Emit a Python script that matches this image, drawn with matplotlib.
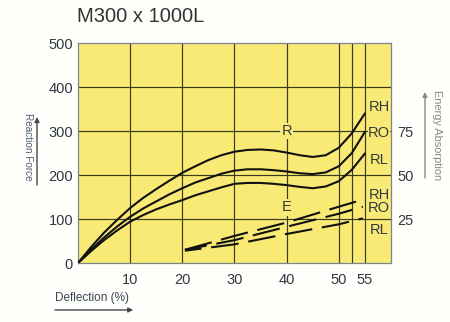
import matplotlib
matplotlib.use("Agg")
import matplotlib.pyplot as plt

plt.rcParams['font.family'] = ['Liberation Sans', 'DejaVu Sans']
plt.rcParams['lines.scale_dashes'] = False

# Reaction force curves (kN) vs deflection (%)
deflection = [0, 2.5, 5, 7.5, 10, 12.5, 15, 17.5, 20, 22.5, 25, 27.5, 30,
              32.5, 35, 37.5, 40, 42.5, 45, 47.5, 50, 52.5, 55]
reaction_rh = [0, 36, 69, 98, 125, 148, 168, 187, 205, 220, 234, 245, 253,
               257, 258, 256, 251, 245, 241, 245, 262, 295, 340]
reaction_ro = [0, 30, 58, 83, 105, 124, 140, 156, 170, 183, 193, 203, 210,
               213, 213, 211, 208, 204, 202, 206, 220, 250, 298]
reaction_rl = [0, 27, 52, 74, 94, 109, 122, 133, 143, 154, 163, 172, 180,
               182, 182, 180, 177, 173, 170, 174, 186, 212, 249]

# Energy absorption curves (kN·m) vs deflection (%)
energy_defl = [20.5, 30, 40, 50, 54.6]
energy_rh = [7.5, 15.4, 23.0, 32.0, 36.0]
energy_ro = [7.5, 13.0, 20.6, 28.0, 32.0]
energy_rl = [7.0, 10.6, 16.5, 22.0, 25.4]

x_ticks = [10, 20, 30, 40, 50, 55]
x_grid = [10, 20, 30, 40, 50, 52.5, 55]
y_ticks = [0, 100, 200, 300, 400, 500]
e_ticks = [25, 50, 75]

yellow = '#F8EA74'
grid_c = '#3a3a1c'
text_c = '#303842'

fig = plt.figure(figsize=(4.5, 3.22), dpi=100, facecolor='#FEFEFB')
ax = fig.add_axes([0.1733, 0.1832, 0.6956, 0.6832])
ax.set_facecolor(yellow)
ax.set_xlim(0, 60)
ax.set_ylim(0, 500)

for gx in x_grid:
    ax.axvline(gx, color=grid_c, lw=0.85, zorder=1)
for gy in y_ticks[1:-1]:
    ax.axhline(gy, color=grid_c, lw=0.85, zorder=1)

for s in ax.spines.values():
    s.set_color('#7a8590')
    s.set_linewidth(0.9)

ax.set_xticks(x_ticks)
ax.set_yticks(y_ticks)
ax.tick_params(axis='x', length=0, pad=7, labelsize=10.5, labelcolor=text_c)
ax.tick_params(axis='y', length=0, pad=3.5, labelsize=10.5, labelcolor=text_c)

for ys in (reaction_rh, reaction_ro, reaction_rl):
    ax.plot(deflection, ys, color='#111111', lw=1.5, zorder=3,
            solid_capstyle='round', solid_joinstyle='round')

ax2 = ax.twinx()
ax2.set_ylim(0, 125)
ax2.set_yticks(e_ticks)
ax2.tick_params(axis='y', length=0, pad=4.5, labelsize=10.5, labelcolor=text_c)
for s in ax2.spines.values():
    s.set_visible(False)

for i, es in enumerate((energy_rh, energy_ro, energy_rl)):
    ax2.plot(energy_defl, es, color='#111111', lw=1.5, zorder=3,
             linestyle=(i * 4, (20, 7)))

box = dict(facecolor=yellow, edgecolor='none', pad=1.0)
ax.text(40, 300, 'R', ha='center', va='center', fontsize=10.5, color=text_c,
        bbox=box, zorder=4)
ax.text(40, 127, 'E', ha='center', va='center', fontsize=10.5, color=text_c,
        bbox=box, zorder=4)

side_labels = ['RH', 'RO', 'RL', 'RH', 'RO', 'RL']
side_y = [355, 295, 234, 155, 125, 75]
for lab, yy in zip(side_labels, side_y):
    ax.text(57.7, yy, lab, ha='center', va='center', fontsize=10.5,
            color=text_c, bbox=dict(facecolor=yellow, edgecolor='none', pad=0.3),
            zorder=4)

fig.text(0.171, 0.950, 'M300 x 1000L', fontsize=14.5, color='#333333',
         ha='left', va='center')

fig.text(0.122, 0.0745, 'Deflection (%)', fontsize=8.5, color='#3a4650',
         ha='left', va='center')
fig.text(0.0622, 0.5435, 'Reaction Force', fontsize=7.2, color='#506070',
         ha='center', va='center', rotation=-90)
fig.text(0.971, 0.5807, 'Energy Absorption', fontsize=7.9, color='#8f857f',
         ha='center', va='center', rotation=-90)

arrow_kw = dict(arrowstyle='-|>', lw=1.0, mutation_scale=7, shrinkA=0, shrinkB=0)
fig.add_artist(matplotlib.patches.FancyArrowPatch(
    (0.122, 0.0373), (0.296, 0.0373), transform=fig.transFigure,
    color='#404850', **arrow_kw))
fig.add_artist(matplotlib.patches.FancyArrowPatch(
    (0.0822, 0.4255), (0.0822, 0.6366), transform=fig.transFigure,
    color='#404850', **arrow_kw))
fig.add_artist(matplotlib.patches.FancyArrowPatch(
    (0.9444, 0.4472), (0.9444, 0.7143), transform=fig.transFigure,
    color='#8a8a8a', **arrow_kw))

fig.savefig('out.png', dpi=100, facecolor=fig.get_facecolor())
